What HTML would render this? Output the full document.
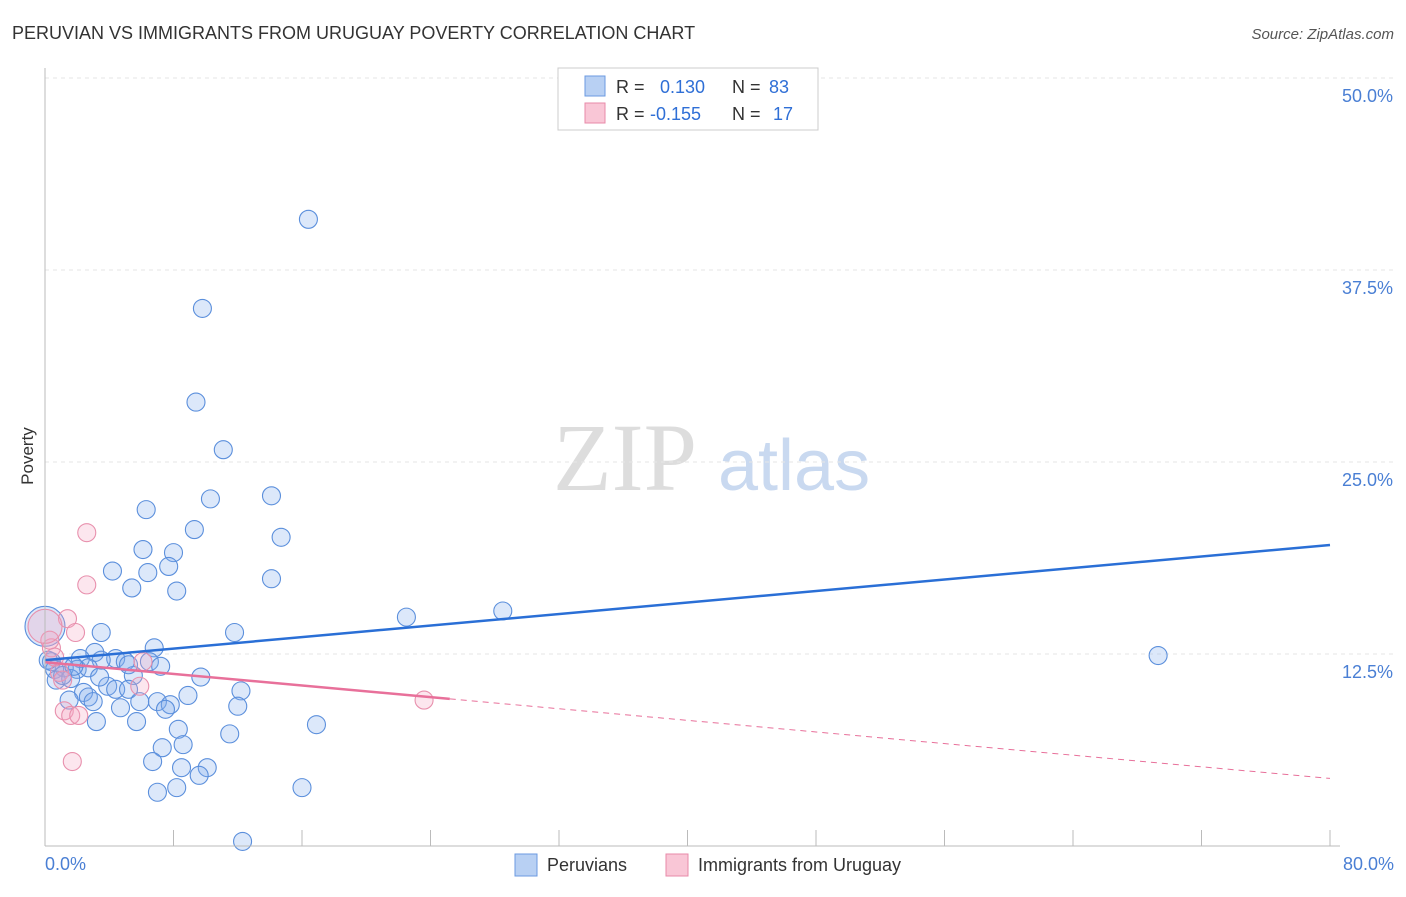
<!DOCTYPE html>
<html><head><meta charset="utf-8"><style>
body{margin:0;background:#fff;font-family:"Liberation Sans",sans-serif}
</style></head><body>
<svg width="1406" height="892" xmlns="http://www.w3.org/2000/svg" id="svg">
<text x="12" y="39" font-size="18" fill="#333">PERUVIAN VS IMMIGRANTS FROM URUGUAY POVERTY CORRELATION CHART</text>
<text x="1394" y="39" font-size="15" fill="#555" font-style="italic" text-anchor="end">Source: ZipAtlas.com</text>
<text x="33" y="456" font-size="17" fill="#333" transform="rotate(-90 33 456)" text-anchor="middle">Poverty</text>
<g><text x="553" y="490" font-size="96" font-family="Liberation Serif,serif" fill="#ddd">ZIP</text><text x="718" y="490" font-size="72" fill="#c9d9f0">atlas</text></g>
<g id="grid"></g><g id="pts"></g><g id="trend"></g>
<line x1="45" y1="68" x2="45" y2="846" stroke="#bbb"/>
<line x1="45" y1="846" x2="1340" y2="846" stroke="#bbb"/>
<text x="45" y="870" font-size="18" fill="#4a7fd4">0.0%</text>
<text x="1394" y="870" font-size="18" fill="#4a7fd4" text-anchor="end">80.0%</text>
<g>
<rect x="558" y="68" width="260" height="62" fill="#fff" stroke="#ccc"/>
<rect x="585" y="76" width="20" height="20" fill="#b8d0f3" stroke="#6b9ae0"/>
<rect x="585" y="103" width="20" height="20" fill="#f9c6d6" stroke="#e88aa8"/>
<text x="616" y="93" font-size="18" fill="#333">R = <tspan x="660" fill="#2f6fd6">0.130</tspan><tspan x="732" fill="#333">N = </tspan><tspan x="769" fill="#2f6fd6">83</tspan></text>
<text x="616" y="120" font-size="18" fill="#333">R = <tspan x="650" fill="#2f6fd6">-0.155</tspan><tspan x="732" fill="#333">N = </tspan><tspan x="773" fill="#2f6fd6">17</tspan></text>
</g>
<g>
<rect x="515" y="854" width="22" height="22" fill="#b8d0f3" stroke="#6b9ae0"/>
<text x="547" y="871" font-size="18" fill="#333">Peruvians</text>
<rect x="666" y="854" width="22" height="22" fill="#f9c6d6" stroke="#e88aa8"/>
<text x="698" y="871" font-size="18" fill="#333">Immigrants from Uruguay</text>
</g>
</svg>
<script>
const yTicks=[12.5,25,37.5,50];
const xTicks=[0,8,16,24,32,40,48,56,64,72,80];
const blueX=[16.4,9.8,9.4,11.1,10.3,14.1,6.3,9.3,14.7,6.1,8.0,4.2,7.7,6.4,14.1,5.4,8.2,22.5,28.5,3.5,11.8,6.8,69.3,3.1,2.2,4.4,5.0,6.5,3.5,7.2,2.0,2.7,1.2,0.4,0.6,0.7,1.6,9.7,5.5,3.9,12.2,8.9,2.4,4.4,5.2,2.7,5.9,7.0,7.8,1.5,3.0,4.7,7.5,12.0,3.2,5.7,16.9,8.3,11.5,8.6,7.3,6.7,8.5,10.1,9.6,8.2,7.0,16.0,12.3,0.2,1.1,1.8,3.4,5.2,0.0];
const blueY=[40.8,35.0,28.9,25.8,22.6,22.8,21.9,20.6,20.1,19.3,19.1,17.9,18.2,17.8,17.4,16.8,16.6,14.9,15.3,13.9,13.9,12.9,12.4,12.6,12.2,12.2,12.0,12.0,12.1,11.7,11.5,11.6,11.6,12.0,11.5,10.8,10.9,11.0,11.1,10.4,10.1,9.8,10.0,10.2,10.2,9.7,9.4,9.4,9.2,9.5,9.4,9.0,8.9,9.1,8.1,8.1,7.9,7.6,7.3,6.6,6.4,5.5,5.1,5.1,4.6,3.8,3.5,3.8,0.3,12.1,11.1,11.7,11.0,11.8,14.3];
const blueR=blueX.map((v,i)=>i===blueX.length-1?20:9);
const pinkX=[2.6,2.6,1.4,1.9,0.4,6.1,5.9,0.9,1.2,1.6,2.1,1.7,23.6,0.6,1.1,0.3,0.0];
const pinkY=[20.4,17.0,14.8,13.9,12.9,12.0,10.4,11.3,8.8,8.5,8.5,5.5,9.5,12.3,10.8,13.4,14.3];
const pinkR=pinkX.map((v,i)=>i===pinkX.length-1?17:9);
const blueTrend=[12.1,19.6];
const pinkTrend=[11.96,4.4];
const pinkSolidEnd=25.2;
const NS="http://www.w3.org/2000/svg";
const xs=v=>45+v/80*1285, ys=v=>846-v/12.5*192;
function mk(t,a,p){const e=document.createElementNS(NS,t);for(const k in a)e.setAttribute(k,a[k]);p.appendChild(e);return e;}
const grid=document.getElementById('grid');
yTicks.forEach(t=>{const l=mk('line',{x1:45,x2:1394,y1:ys(t),y2:ys(t),stroke:'#e6e6e6','stroke-dasharray':'4,4'},grid);


const tx=mk('text',{x:1393,y:ys(t)+24,'font-size':18,fill:'#4a7fd4','text-anchor':'end'},grid);tx.textContent=t.toFixed(1)+'%';

});
xTicks.forEach(t=>{const l=mk('line',{x1:xs(t),x2:xs(t),y1:830,y2:846,stroke:'#bbb'},grid);

});
const pts=document.getElementById('pts');
blueX.forEach((v,i)=>{const c=mk('circle',{cx:xs(v),cy:ys(blueY[i]),r:blueR[i],fill:'rgba(130,172,238,0.28)',stroke:'#5b8fdc','stroke-width':1.1},pts);

});
pinkX.forEach((v,i)=>{const c=mk('circle',{cx:xs(v),cy:ys(pinkY[i]),r:pinkR[i],fill:'rgba(245,165,195,0.28)',stroke:'#e890ad','stroke-width':1.1},pts);

});
const tr=document.getElementById('trend');
const b=mk('line',{x1:xs(0),y1:ys(blueTrend[0]),x2:xs(80),y2:ys(blueTrend[1]),stroke:'#2a6fd6','stroke-width':2.5},tr);


const pm=pinkTrend[0]+(pinkTrend[1]-pinkTrend[0])*pinkSolidEnd/80;
const p1=mk('line',{x1:xs(0),y1:ys(pinkTrend[0]),x2:xs(pinkSolidEnd),y2:ys(pm),stroke:'#e8709a','stroke-width':2.5},tr);


const p2=mk('line',{x1:xs(pinkSolidEnd),y1:ys(pm),x2:xs(80),y2:ys(pinkTrend[1]),stroke:'#e8709a','stroke-width':1,'stroke-dasharray':'6,5'},tr);


</script>
</body></html>
